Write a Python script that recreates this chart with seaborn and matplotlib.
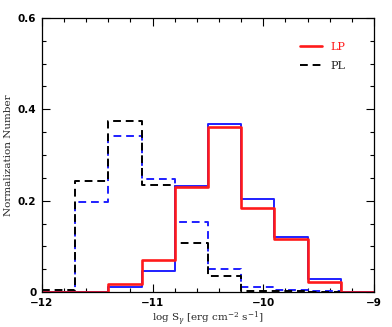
import numpy as np
import pandas as pd
import matplotlib
matplotlib.use("Agg")
import matplotlib.pyplot as plt
from matplotlib.ticker import MultipleLocator, FixedFormatter, FixedLocator
from matplotlib.lines import Line2D
import seaborn as sns

# bin edges of log S_gamma (width 0.3 from -12 to -9)
bin_edges = [-12.0, -11.7, -11.4, -11.1, -10.8, -10.5, -10.2, -9.9, -9.6, -9.3, -9.0]
bin_centers = [-11.85, -11.55, -11.25, -10.95, -10.65, -10.35, -10.05, -9.75, -9.45, -9.15]

# normalized counts per bin
pl_black = [0.005, 0.243, 0.375, 0.234, 0.107, 0.034, 0.003, 0.002, 0.0, 0.0]
pl_blue = [0.0, 0.198, 0.342, 0.247, 0.154, 0.050, 0.010, 0.004, 0.002, 0.0]
lp_blue = [0.0, 0.0, 0.011, 0.047, 0.233, 0.367, 0.203, 0.120, 0.028, 0.0]
lp_red = [0.0, 0.0, 0.017, 0.070, 0.231, 0.362, 0.185, 0.116, 0.023, 0.0]

sns.set_style("ticks")
plt.rcParams["mathtext.fontset"] = "dejavuserif"

fig = plt.figure(figsize=(3.92, 3.27), dpi=100)
ax = fig.add_axes([0.107, 0.107, 0.847, 0.838])

series = [
    (pl_blue, "#1f1fff", (0, (4, 2.5)), 1.4),
    (pl_black, "black", (0, (4, 2.5)), 1.4),
    (lp_blue, "#1f1fff", "-", 1.4),
    (lp_red, "#ff1a1a", "-", 1.9),
]
for vals, col, ls, lw in series:
    sns.histplot(x=bin_centers, weights=vals, bins=bin_edges, element="step",
                 fill=False, color=col, linestyle=ls, linewidth=lw, ax=ax)

ax.set_xlim(-12, -9)
ax.set_ylim(0, 0.6)
ax.xaxis.set_major_locator(FixedLocator([-12, -11, -10, -9]))
ax.xaxis.set_major_formatter(FixedFormatter(["\u221212", "\u221211", "\u221210", "\u22129"]))
ax.xaxis.set_minor_locator(MultipleLocator(0.2))
ax.yaxis.set_major_locator(FixedLocator([0, 0.2, 0.4, 0.6]))
ax.yaxis.set_major_formatter(FixedFormatter(["0", "0.2", "0.4", "0.6"]))
ax.yaxis.set_minor_locator(MultipleLocator(0.05))
ax.tick_params(which="both", direction="in", top=True, right=True, colors="black")
ax.tick_params(which="major", length=6, width=0.8, labelsize=7.5)
ax.tick_params(axis="x", which="major", pad=4)
ax.tick_params(axis="y", which="major", pad=4)
ax.tick_params(which="minor", length=3, width=0.8)
for lab in ax.get_xticklabels() + ax.get_yticklabels():
    lab.set_fontweight("bold")
for sp in ax.spines.values():
    sp.set_color("black")
    sp.set_linewidth(0.9)

ax.set_xlabel(r"log S$_\gamma$ [erg cm$^{-2}$ s$^{-1}$]", family="DejaVu Serif", fontsize=7.5)
ax.set_ylabel("Normalization Number", family="DejaVu Serif", fontsize=7.5)
ax.xaxis.set_label_coords(0.5, -0.097, transform=ax.transAxes)
ax.yaxis.set_label_coords(-0.10, 0.5, transform=ax.transAxes)
ax.xaxis.label.set_verticalalignment("center")
ax.yaxis.label.set_verticalalignment("center")

handles = [Line2D([], [], color="#ff1a1a", lw=1.9),
           Line2D([], [], color="black", lw=1.4, ls=(0, (4, 2.5)))]
leg = ax.legend(handles, ["LP", "PL"], loc="upper right", frameon=False,
                bbox_to_anchor=(0.945, 0.95), handlelength=2.0, labelspacing=0.8,
                prop={"family": "DejaVu Serif", "size": 8})
leg.get_texts()[0].set_color("#ff1a1a")

fig.savefig("out.png", dpi=100)
